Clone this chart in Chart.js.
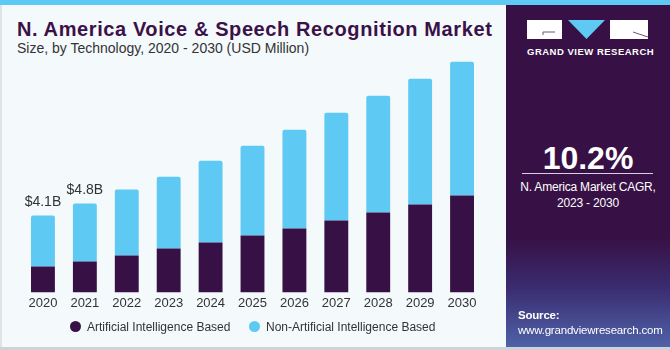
<!DOCTYPE html>
<html>
<head>
<meta charset="utf-8">
<script src="https://cdn.jsdelivr.net/npm/chart.js@4.4.1/dist/chart.umd.min.js"></script>
<style>
  html,body{margin:0;padding:0;}
  body{width:670px;height:350px;position:relative;overflow:hidden;background:#f4f9fc;font-family:"Liberation Sans",Arial,sans-serif;}
  #stripe{position:absolute;left:0;top:0;width:670px;height:5px;background:#5ec9f3;}
  #lborder{position:absolute;left:0;top:5px;width:2px;height:345px;background:#dfe3e6;}
  #bborder{position:absolute;left:0;top:347px;width:670px;height:3px;background:#cfd3d6;}
  #title{position:absolute;left:17px;top:18px;font-size:20px;font-weight:bold;color:#3b1148;white-space:nowrap;letter-spacing:0.6px;}
  #subtitle{position:absolute;left:17px;top:40px;font-size:14px;color:#333;white-space:nowrap;}
  #panel{position:absolute;left:506px;top:5px;width:164px;height:342px;background:linear-gradient(to bottom,#371145 0%,#371145 68%,#3a2a6e 82%,#4f62a8 100%);overflow:hidden;}
  #gvr{position:absolute;left:21px;top:41px;width:121px;text-align:center;color:#fff;font-size:9.5px;font-weight:bold;letter-spacing:0.5px;white-space:nowrap;}
  #cagr{position:absolute;left:0;width:164px;top:135px;text-align:center;color:#fff;font-size:32px;font-weight:bold;}
  #line{position:absolute;left:16px;top:168px;width:131px;height:1px;background:#d8d0de;}
  #cagrtxt{position:absolute;left:0;width:164px;top:174px;text-align:center;color:#fff;font-size:12px;letter-spacing:-0.2px;line-height:16px;}
  #src{position:absolute;left:12px;top:303px;color:#fff;font-size:11.5px;letter-spacing:-0.2px;line-height:15px;}
  #legend{position:absolute;top:320px;left:0;width:505px;font-size:12px;color:#333;}
  .li{position:absolute;white-space:nowrap;}
  .dot{display:inline-block;width:11px;height:11px;border-radius:50%;vertical-align:-1px;margin-right:6px;}
  #wrap{position:absolute;left:0;top:0;width:505px;height:345px;}
</style>
</head>
<body>
<div id="stripe"></div>
<div id="lborder"></div>
<div id="title">N. America Voice &amp; Speech Recognition Market</div>
<div id="subtitle">Size, by Technology, 2020 - 2030 (USD Million)</div>
<div id="wrap"><canvas id="c"></canvas></div>
<div id="legend">
  <div class="li" style="left:70px"><span class="dot" style="background:#371145"></span>Artificial Intelligence Based</div>
  <div class="li" style="left:249px"><span class="dot" style="background:#5ec9f3"></span>Non-Artificial Intelligence Based</div>
</div>
<div id="panel">
  <svg style="position:absolute;left:21px;top:15px" width="121" height="20">
    <rect x="0" y="0" width="35" height="19" fill="#fff"/>
    <polyline points="28,12 16,12 16,15" fill="none" stroke="#6a5a78" stroke-width="1"/>
    <polygon points="41,0 78,0 59.5,19" fill="#5ec9f3"/>
    <rect x="83" y="0" width="38" height="19" fill="#fff"/>
    <line x1="106" y1="12" x2="121" y2="17" stroke="#6a5a78" stroke-width="1"/>
  </svg>
  <div id="gvr">GRAND VIEW RESEARCH</div>
  <div id="cagr">10.2%</div>
  <div id="line"></div>
  <div id="cagrtxt">N. America Market CAGR,<br>2023 - 2030</div>
  <div id="src"><b>Source:</b><br>www.grandviewresearch.com</div>
</div>
<div id="bborder"></div>
<script>
const years = ["2020","2021","2022","2023","2024","2025","2026","2027","2028","2029","2030"];
const aiBased = [1385,1650,1970,2343,2663,3035,3408,3834,4260,4686,5165];
const nonAiBased = [2715,3089,3515,3834,4366,4793,5272,5751,6230,6710,7136];
const totalLabels = ["$4.1B","$4.8B","","","","","","","","",""];

const labelPlugin = {
  id:'totals',
  afterDatasetsDraw(chart){
    const ctx = chart.ctx;
    const meta = chart.getDatasetMeta(1);
    ctx.save();
    ctx.font = '14px "Liberation Sans", Arial, sans-serif';
    ctx.fillStyle = '#333';
    ctx.textAlign = 'center';
    ctx.textBaseline = 'alphabetic';
    meta.data.forEach((bar,i)=>{
      if(totalLabels[i]) ctx.fillText(totalLabels[i], bar.x, bar.y - 10);
    });
    ctx.restore();
  }
};

new Chart(document.getElementById('c'),{
  type:'bar',
  data:{
    labels:years,
    datasets:[
      {label:'Artificial Intelligence Based',data:aiBased,backgroundColor:'#371145',barPercentage:0.57,categoryPercentage:1},
      {label:'Non-Artificial Intelligence Based',data:nonAiBased,backgroundColor:'#5ec9f3',barPercentage:0.57,categoryPercentage:1,borderRadius:{topLeft:2,topRight:2}}
    ]
  },
  options:{
    responsive:true,
    maintainAspectRatio:false,
    animation:false,
    layout:{padding:{left:22,right:22,top:30,bottom:31}},
    plugins:{legend:{display:false},tooltip:{enabled:false}},
    scales:{
      x:{stacked:true,grid:{display:false,drawTicks:false},border:{display:false},
         ticks:{color:'#333',font:{size:13,family:'"Liberation Sans", Arial, sans-serif'},padding:3,maxRotation:0}},
      y:{stacked:true,display:false,min:0,max:14000}
    }
  },
  plugins:[labelPlugin]
});
</script>
</body>
</html>
